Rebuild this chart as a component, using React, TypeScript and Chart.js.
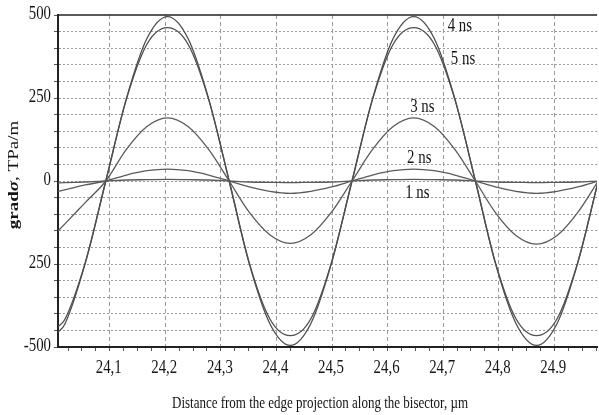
import React, { useEffect, useRef } from 'react';
import { Chart, registerables } from 'chart.js';

Chart.register(...registerables);

// Distance along the bisector, µm
const xValues = [
  24.005, 24.019, 24.056,
  24.093, 24.130, 24.167, 24.204, 24.241, 24.278, 24.315, 24.351, 24.388,
  24.425, 24.462, 24.499, 24.536, 24.573, 24.610, 24.647, 24.684, 24.721,
  24.758, 24.794, 24.831, 24.868, 24.905, 24.942, 24.979,
];

// grad sigma, TPa/m
const values1ns = [
  -6, -5, -3,
  0, 3, 4, 5, 4, 3, 0, -3, -4,
  -5, -4, -3, 0, 3, 4, 5, 4, 3,
  0, -3, -4, -5, -4, -3, 0,
];
const values2ns = [
  -32, -27, -12,
  0, 18, 31, 36, 31, 18, 0, -18, -31,
  -37, -31, -18, 0, 18, 31, 36, 31, 18,
  0, -18, -31, -37, -31, -18, 0,
];
const values3ns = [
  -154, -130, -65,
  0, 95, 164, 190, 164, 95, 0, -94, -162,
  -188, -162, -94, 0, 95, 164, 190, 164, 95,
  0, -95, -164, -190, -164, -95, 0,
];
const values4ns = [
  -458, -432, -248,
  0, 248, 429, 495, 429, 248, 0, -248, -429,
  -495, -429, -248, 0, 248, 429, 495, 429, 248,
  0, -248, -429, -495, -429, -248, 0,
];
const values5ns = [
  -442, -418, -246,
  0, 246, 412, 462, 412, 246, 0, -246, -415,
  -466, -415, -246, 0, 246, 412, 462, 412, 246,
  0, -246, -415, -466, -415, -246, 0,
];

const seriesNames = ['1 ns', '2 ns', '3 ns', '4 ns', '5 ns'];
const seriesValues = [values1ns, values2ns, values3ns, values4ns, values5ns];

const xTickValues = [24.1, 24.2, 24.3, 24.4, 24.5, 24.6, 24.7, 24.8, 24.9];
const xTickLabels = ['24,1', '24,2', '24,3', '24,4', '24,5', '24,6', '24,7', '24,8', '24.9'];
const yTickValues = [500, 250, 0, -250, -500];
const yTickLabels = ['500', '250', '0', '250', '-500'];

const xTitle = 'Distance from the edge projection along the bisector, \u00b5m';
const yTitleParts = ['grad', '\u03c3', ', TPa/m'];

// label anchors (baseline centre) in data coordinates (x in µm, y in TPa/m)
const labelAnchors = [
  { x: 24.6536, y: -51 },
  { x: 24.657, y: 54 },
  { x: 24.6625, y: 208 },
  { x: 24.730, y: 452 },
  { x: 24.7357, y: 352 },
];

const SERIF = '"Liberation Serif", "Times New Roman", serif';
const CONDENSE = 0.78;

function drawCondensed(ctx: CanvasRenderingContext2D, text: string, x: number, y: number, sx: number) {
  ctx.save();
  ctx.translate(x, y);
  ctx.scale(sx, 1);
  ctx.fillText(text, 0, 0);
  ctx.restore();
}

const textPlugin = {
  id: 'texts',
  afterDraw(chart: any) {
    const { ctx, chartArea, scales } = chart;
    const xs = scales.x;
    const ys = scales.y;
    ctx.save();
    // top frame line
    ctx.strokeStyle = '#222';
    ctx.lineWidth = 1.5;
    ctx.beginPath();
    ctx.moveTo(chartArea.left, chartArea.top);
    ctx.lineTo(chartArea.right, chartArea.top);
    ctx.stroke();

    ctx.fillStyle = '#141414';

    // x tick labels
    ctx.font = `19px ${SERIF}`;
    ctx.textAlign = 'center';
    ctx.textBaseline = 'alphabetic';
    xTickValues.forEach((v, i) => {
      drawCondensed(ctx, xTickLabels[i], xs.getPixelForValue(v) - 1, 373, CONDENSE);
    });

    // y tick labels
    ctx.textAlign = 'right';
    ctx.textBaseline = 'middle';
    yTickValues.forEach((v, i) => {
      drawCondensed(ctx, yTickLabels[i], 51, ys.getPixelForValue(v) - 1, CONDENSE);
    });

    // series labels
    ctx.font = `19px ${SERIF}`;
    ctx.textAlign = 'center';
    ctx.textBaseline = 'alphabetic';
    seriesNames.forEach((n, i) => {
      drawCondensed(
        ctx,
        n,
        xs.getPixelForValue(labelAnchors[i].x),
        ys.getPixelForValue(labelAnchors[i].y),
        CONDENSE
      );
    });

    // x title
    ctx.font = `17px ${SERIF}`;
    const w = ctx.measureText(xTitle).width;
    drawCondensed(ctx, xTitle, 320, 408, Math.min(1, 296 / w));

    // y title (rotated)
    const fonts = [`bold 19px ${SERIF}`, `bold italic 19px ${SERIF}`, `19px ${SERIF}`];
    let total = 0;
    const widths = yTitleParts.map((p, i) => {
      ctx.font = fonts[i];
      const ww = ctx.measureText(p).width;
      total += ww;
      return ww;
    });
    ctx.save();
    ctx.translate(14, 175);
    ctx.rotate(-Math.PI / 2);
    ctx.scale(1, CONDENSE);
    ctx.textAlign = 'left';
    ctx.textBaseline = 'middle';
    let px = -total / 2;
    yTitleParts.forEach((p, i) => {
      ctx.font = fonts[i];
      ctx.fillText(p, px, 0);
      px += widths[i];
    });
    ctx.restore();
    ctx.restore();
  },
};

export default function App() {
  const ref = useRef<HTMLCanvasElement>(null);
  useEffect(() => {
    if (!ref.current) return;
    const datasets = seriesValues.map((vals, si) => ({
      label: seriesNames[si],
      data: xValues.map((x, i) => ({ x, y: vals[i] })),
      borderColor: si >= 3 ? '#4d4d4d' : '#5a5a5a',
      borderWidth: 1.3,
      pointRadius: 0,
      fill: false,
      cubicInterpolationMode: 'monotone' as const,
    }));
    const chart = new Chart(ref.current, {
      type: 'line',
      data: { datasets },
      plugins: [textPlugin],
      options: {
        animation: false,
        responsive: false,
        devicePixelRatio: 1,
        layout: { padding: { top: 15, left: 0, right: 0, bottom: 0 } },
        plugins: { legend: { display: false }, tooltip: { enabled: false } },
        scales: {
          x: {
            type: 'linear',
            min: 24.007,
            max: 24.977,
            afterBuildTicks: (scale: any) => {
              const t = [];
              for (let i = 0; i < 39; i++) t.push({ value: +(24.025 + i * 0.025).toFixed(3) });
              scale.ticks = t;
            },
            afterFit: (scale: any) => {
              scale.height = 68;
            },
            ticks: {
              autoSkip: false,
              maxRotation: 0,
              callback: () => '',
            },
            grid: {
              color: (c: any) =>
                c.tick && xTickValues.some((t) => Math.abs(t - c.tick.value) < 1e-6) ? '#9a9a9a' : 'rgba(0,0,0,0)',
              lineWidth: 1,
              tickLength: 4,
              tickColor: '#555',
            },
            border: { display: true, color: '#222', width: 2, dash: [4, 3] },
          },
          y: {
            type: 'linear',
            min: -500,
            max: 500,
            afterBuildTicks: (scale: any) => {
              const t = [];
              for (let v = -500; v <= 500; v += 50) t.push({ value: v });
              scale.ticks = t;
            },
            afterFit: (scale: any) => {
              scale.width = 58;
            },
            ticks: {
              autoSkip: false,
              callback: () => '',
            },
            grid: {
              color: (c: any) =>
                c.tick && (c.tick.value === 500 || c.tick.value === -500) ? 'rgba(0,0,0,0)' : '#9a9a9a',
              lineWidth: 1,
              tickLength: 4,
              tickColor: '#555',
            },
            border: { display: true, color: '#222', width: 2, dash: [2, 2] },
          },
        },
      },
    });
    return () => chart.destroy();
  }, []);
  return (
    <div style={{ position: 'absolute', left: 0, top: 0, width: 599, height: 415, background: '#fff' }}>
      <canvas ref={ref} width={599} height={415} />
    </div>
  );
}
